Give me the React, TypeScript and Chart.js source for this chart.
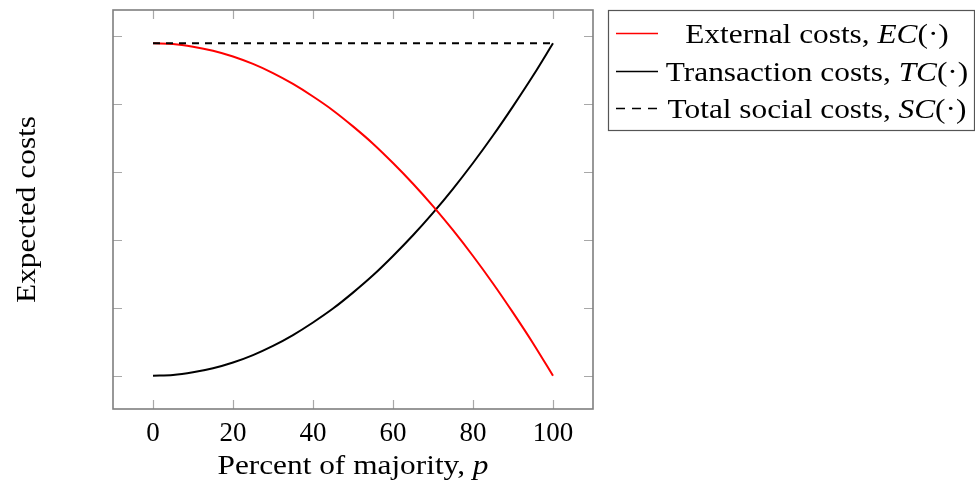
import React, { useEffect, useRef } from "react";
import { Chart, registerables } from "chart.js";

Chart.register(...registerables);

const percent = [0, 5, 10, 15, 20, 25, 30, 35, 40, 45, 50, 55, 60, 65, 70, 75, 80, 85, 90, 95, 100];
const externalCosts = [0.98, 0.978, 0.97, 0.958, 0.941, 0.919, 0.892, 0.86, 0.823, 0.782, 0.735, 0.684, 0.627, 0.566, 0.5, 0.429, 0.353, 0.272, 0.186, 0.096, 0];
const transactionCosts = [0, 0.002, 0.01, 0.022, 0.039, 0.061, 0.088, 0.12, 0.157, 0.198, 0.245, 0.296, 0.353, 0.414, 0.48, 0.551, 0.627, 0.708, 0.794, 0.884, 0.98];
const socialCostsX = [0, 100];
const socialCosts = [0.98, 0.98];
const xTicks = [0, 20, 40, 60, 80, 100];
const yTicks = [0, 0.2, 0.4, 0.6, 0.8, 1.0];
const xTitle = [["Percent of majority, ", false], ["p", true]] as [string, boolean][];
const yTitle = [["Expected costs", false]] as [string, boolean][];
const legendRows = [
  { parts: [["External costs, ", false], ["EC", true], ["(·)", false]] as [string, boolean][], color: "#ff0000", dash: [] as number[] },
  { parts: [["Transaction costs, ", false], ["TC", true], ["(·)", false]] as [string, boolean][], color: "#000000", dash: [] as number[] },
  { parts: [["Total social costs, ", false], ["SC", true], ["(·)", false]] as [string, boolean][], color: "#000000", dash: [9, 7] },
];

const FONT_FAMILY = '"Liberation Serif", "DejaVu Serif", serif';
const FS = 27;
const STRETCH = 1.16;
const fontFor = (italic: boolean) => `${italic ? "italic " : ""}${FS}px ${FONT_FAMILY}`;

function drawRich(ctx: CanvasRenderingContext2D, parts: [string, boolean][], cx: number, y: number) {
  let total = 0;
  const widths = parts.map(([t, it]) => {
    ctx.font = fontFor(it);
    const w = ctx.measureText(t).width;
    total += w;
    return w;
  });
  ctx.save();
  ctx.translate(cx, y);
  ctx.scale(STRETCH, 1);
  let x = -total / 2;
  ctx.textAlign = "left";
  ctx.textBaseline = "alphabetic";
  parts.forEach(([t, it], i) => {
    ctx.font = fontFor(it);
    ctx.fillText(t, x, 0);
    x += widths[i];
  });
  ctx.restore();
}

const decorPlugin = {
  id: "decor",
  afterDraw(chart: any) {
    const { ctx, chartArea } = chart;
    const xs = chart.scales.x;
    const ys = chart.scales.y;
    const { left, right, top, bottom } = chartArea;
    ctx.save();
    // tick marks (inside, all four sides)
    ctx.strokeStyle = "#a8a8a8";
    ctx.lineWidth = 1.2;
    const tl = 9;
    xTicks.forEach((v) => {
      const px = Math.round(xs.getPixelForValue(v)) + 0.5;
      ctx.beginPath();
      ctx.moveTo(px, bottom);
      ctx.lineTo(px, bottom - tl);
      ctx.moveTo(px, top);
      ctx.lineTo(px, top + tl);
      ctx.stroke();
    });
    yTicks.forEach((v) => {
      const py = Math.round(ys.getPixelForValue(v)) + 0.5;
      ctx.beginPath();
      ctx.moveTo(left, py);
      ctx.lineTo(left + tl, py);
      ctx.moveTo(right, py);
      ctx.lineTo(right - tl, py);
      ctx.stroke();
    });
    // frame
    ctx.strokeStyle = "#7f7f7f";
    ctx.lineWidth = 1.6;
    ctx.strokeRect(left, top, right - left, bottom - top);

    // x tick labels
    ctx.fillStyle = "#000";
    ctx.font = fontFor(false);
    ctx.textAlign = "center";
    ctx.textBaseline = "alphabetic";
    xTicks.forEach((v) => {
      ctx.fillText(String(v), xs.getPixelForValue(v), bottom + 32);
    });

    // x title
    drawRich(ctx, xTitle, (left + right) / 2, bottom + 65);

    // y title
    ctx.save();
    ctx.translate(35, (top + bottom) / 2);
    ctx.rotate(-Math.PI / 2);
    drawRich(ctx, yTitle, 0, 0);
    ctx.restore();

    // legend
    const lx = 608, ly = 10, lw = 366, lh = 120;
    ctx.strokeStyle = "#555";
    ctx.lineWidth = 1.2;
    ctx.strokeRect(lx + 0.5, ly + 0.5, lw, lh);
    const lineY = [33, 71, 108];
    legendRows.forEach((row, i) => {
      ctx.strokeStyle = row.color;
      ctx.lineWidth = 1.6;
      ctx.setLineDash(row.dash);
      ctx.beginPath();
      ctx.moveTo(616, lineY[i] + 0.5);
      ctx.lineTo(658, lineY[i] + 0.5);
      ctx.stroke();
      ctx.setLineDash([]);
      ctx.fillStyle = "#000";
      drawRich(ctx, row.parts, 817, lineY[i] + 10);
    });
    ctx.restore();
  },
};

export default function App() {
  const ref = useRef<HTMLCanvasElement>(null);
  useEffect(() => {
    document.body.style.margin = "0";
    const canvas = ref.current!;
    const chart = new Chart(canvas, {
      type: "line",
      data: {
        datasets: [
          {
            label: "Total social costs",
            data: socialCostsX.map((x, i) => ({ x, y: socialCosts[i] })),
            borderColor: "#000",
            borderWidth: 2,
            borderDash: [7, 6],
            pointRadius: 0,
            order: 0,
          },
          {
            label: "External costs",
            data: percent.map((x, i) => ({ x, y: externalCosts[i] })),
            borderColor: "#ff0000",
            borderWidth: 2,
            pointRadius: 0,
            cubicInterpolationMode: "monotone",
            order: 1,
          },
          {
            label: "Transaction costs",
            data: percent.map((x, i) => ({ x, y: transactionCosts[i] })),
            borderColor: "#000",
            borderWidth: 2,
            pointRadius: 0,
            cubicInterpolationMode: "monotone",
            order: 2,
          },
        ],
      },
      options: {
        animation: false,
        responsive: false,
        layout: { padding: { left: 113, top: 10, right: 382, bottom: 77 } },
        plugins: { legend: { display: false }, tooltip: { enabled: false } },
        scales: {
          x: { type: "linear", min: -10, max: 110, display: false },
          y: { type: "linear", min: -0.098, max: 1.078, display: false },
        },
      },
      plugins: [decorPlugin],
    } as any);
    return () => chart.destroy();
  }, []);
  return <canvas ref={ref} width={975} height={486} style={{ display: "block" }} />;
}
